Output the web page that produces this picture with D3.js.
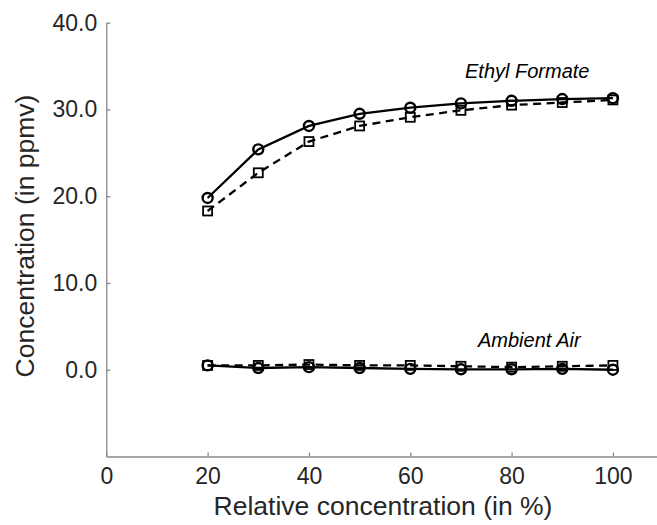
<!DOCTYPE html>
<html>
<head>
<meta charset="utf-8">
<script src="https://cdn.jsdelivr.net/npm/d3@7"></script>
<style>
  html, body { margin: 0; padding: 0; background: #fff; }
  svg { display: block; font-family: "Liberation Sans", Arial, sans-serif; }
</style>
</head>
<body>
<svg id="chart" width="657" height="525"></svg>
<script>
// Relative concentration levels (%)
const relConc = [20, 30, 40, 50, 60, 70, 80, 90, 100];

// Ethyl formate concentration (ppmv)
const ethylSolid  = [19.8, 25.4, 28.1, 29.5, 30.2, 30.7, 31.0, 31.2, 31.3];
const ethylDashed = [18.3, 22.7, 26.3, 28.1, 29.1, 29.9, 30.5, 30.8, 31.1];

// Ambient air concentration (ppmv)
const airSolid  = [0.5, 0.2, 0.3, 0.2, 0.1, 0.05, 0.05, 0.1, 0.0];
const airDashed = [0.5, 0.5, 0.6, 0.5, 0.5, 0.4, 0.3, 0.4, 0.5];

const xTicks = [0, 20, 40, 60, 80, 100];
const yTicks = [0, 10, 20, 30, 40];

const svg = d3.select("#chart");

const x = d3.scaleLinear().domain([0, 108.7]).range([106.3, 657]);
const y = d3.scaleLinear().domain([-10, 40]).range([456.5, 22.7]);

const axisColor = "#8a8a8a";
const textColor = "#262626";

// x axis
const gx = svg.append("g")
  .attr("transform", `translate(0,${y(-10)})`)
  .call(d3.axisBottom(x).tickValues(xTicks).tickSizeInner(-4).tickSizeOuter(0).tickPadding(11));
gx.select(".domain").attr("stroke", axisColor).attr("stroke-width", 1.3);
gx.selectAll(".tick line").attr("stroke", axisColor).attr("stroke-width", 1.3);
gx.selectAll(".tick text").attr("fill", textColor).attr("font-size", 23);

// y axis
const gy = svg.append("g")
  .attr("transform", `translate(${x(0)},0)`)
  .call(d3.axisLeft(y).tickValues(yTicks).tickFormat(d3.format(".1f")).tickSizeInner(-4).tickSizeOuter(0).tickPadding(9));
gy.select(".domain").attr("stroke", axisColor).attr("stroke-width", 1.3);
gy.selectAll(".tick line").attr("stroke", axisColor).attr("stroke-width", 1.3);
gy.selectAll(".tick text").attr("fill", textColor).attr("font-size", 23);

// axis titles
svg.append("text")
  .attr("x", 383).attr("y", 515)
  .attr("text-anchor", "middle")
  .attr("font-size", 26.5).attr("fill", textColor)
  .text("Relative concentration (in %)");

svg.append("text")
  .attr("transform", `translate(34,236) rotate(-90)`)
  .attr("text-anchor", "middle")
  .attr("font-size", 26.5).attr("fill", textColor)
  .text("Concentration (in ppmv)");

// series
const series = [
  { values: ethylDashed, dash: "8,5.5", marker: "square" },
  { values: ethylSolid,  dash: null,    marker: "circle" },
  { values: airDashed,   dash: "8,5.5", marker: "square" },
  { values: airSolid,    dash: null,    marker: "circle" }
];

const line = d3.line().x(d => x(d[0])).y(d => y(d[1]));

series.forEach(s => {
  const pts = relConc.map((c, i) => [c, s.values[i]]);
  const path = svg.append("path")
    .datum(pts)
    .attr("d", line)
    .attr("fill", "none")
    .attr("stroke", "#000")
    .attr("stroke-width", 2.3);
  if (s.dash) path.attr("stroke-dasharray", s.dash);

  const g = svg.append("g");
  if (s.marker === "circle") {
    g.selectAll("circle").data(pts).join("circle")
      .attr("cx", d => x(d[0])).attr("cy", d => y(d[1]))
      .attr("r", 5)
      .attr("fill", "none").attr("stroke", "#000").attr("stroke-width", 2.4);
  } else {
    g.selectAll("rect").data(pts).join("rect")
      .attr("x", d => x(d[0]) - 4.5).attr("y", d => y(d[1]) - 4.5)
      .attr("width", 9).attr("height", 9)
      .attr("fill", "none").attr("stroke", "#000").attr("stroke-width", 1.8);
  }
});

// series labels
svg.append("text")
  .attr("x", 465).attr("y", 78)
  .attr("font-size", 20).attr("font-style", "italic").attr("fill", "#000")
  .text("Ethyl Formate");

svg.append("text")
  .attr("x", 478).attr("y", 346.5)
  .attr("font-size", 20).attr("font-style", "italic").attr("fill", "#000")
  .text("Ambient Air");
</script>
</body>
</html>
